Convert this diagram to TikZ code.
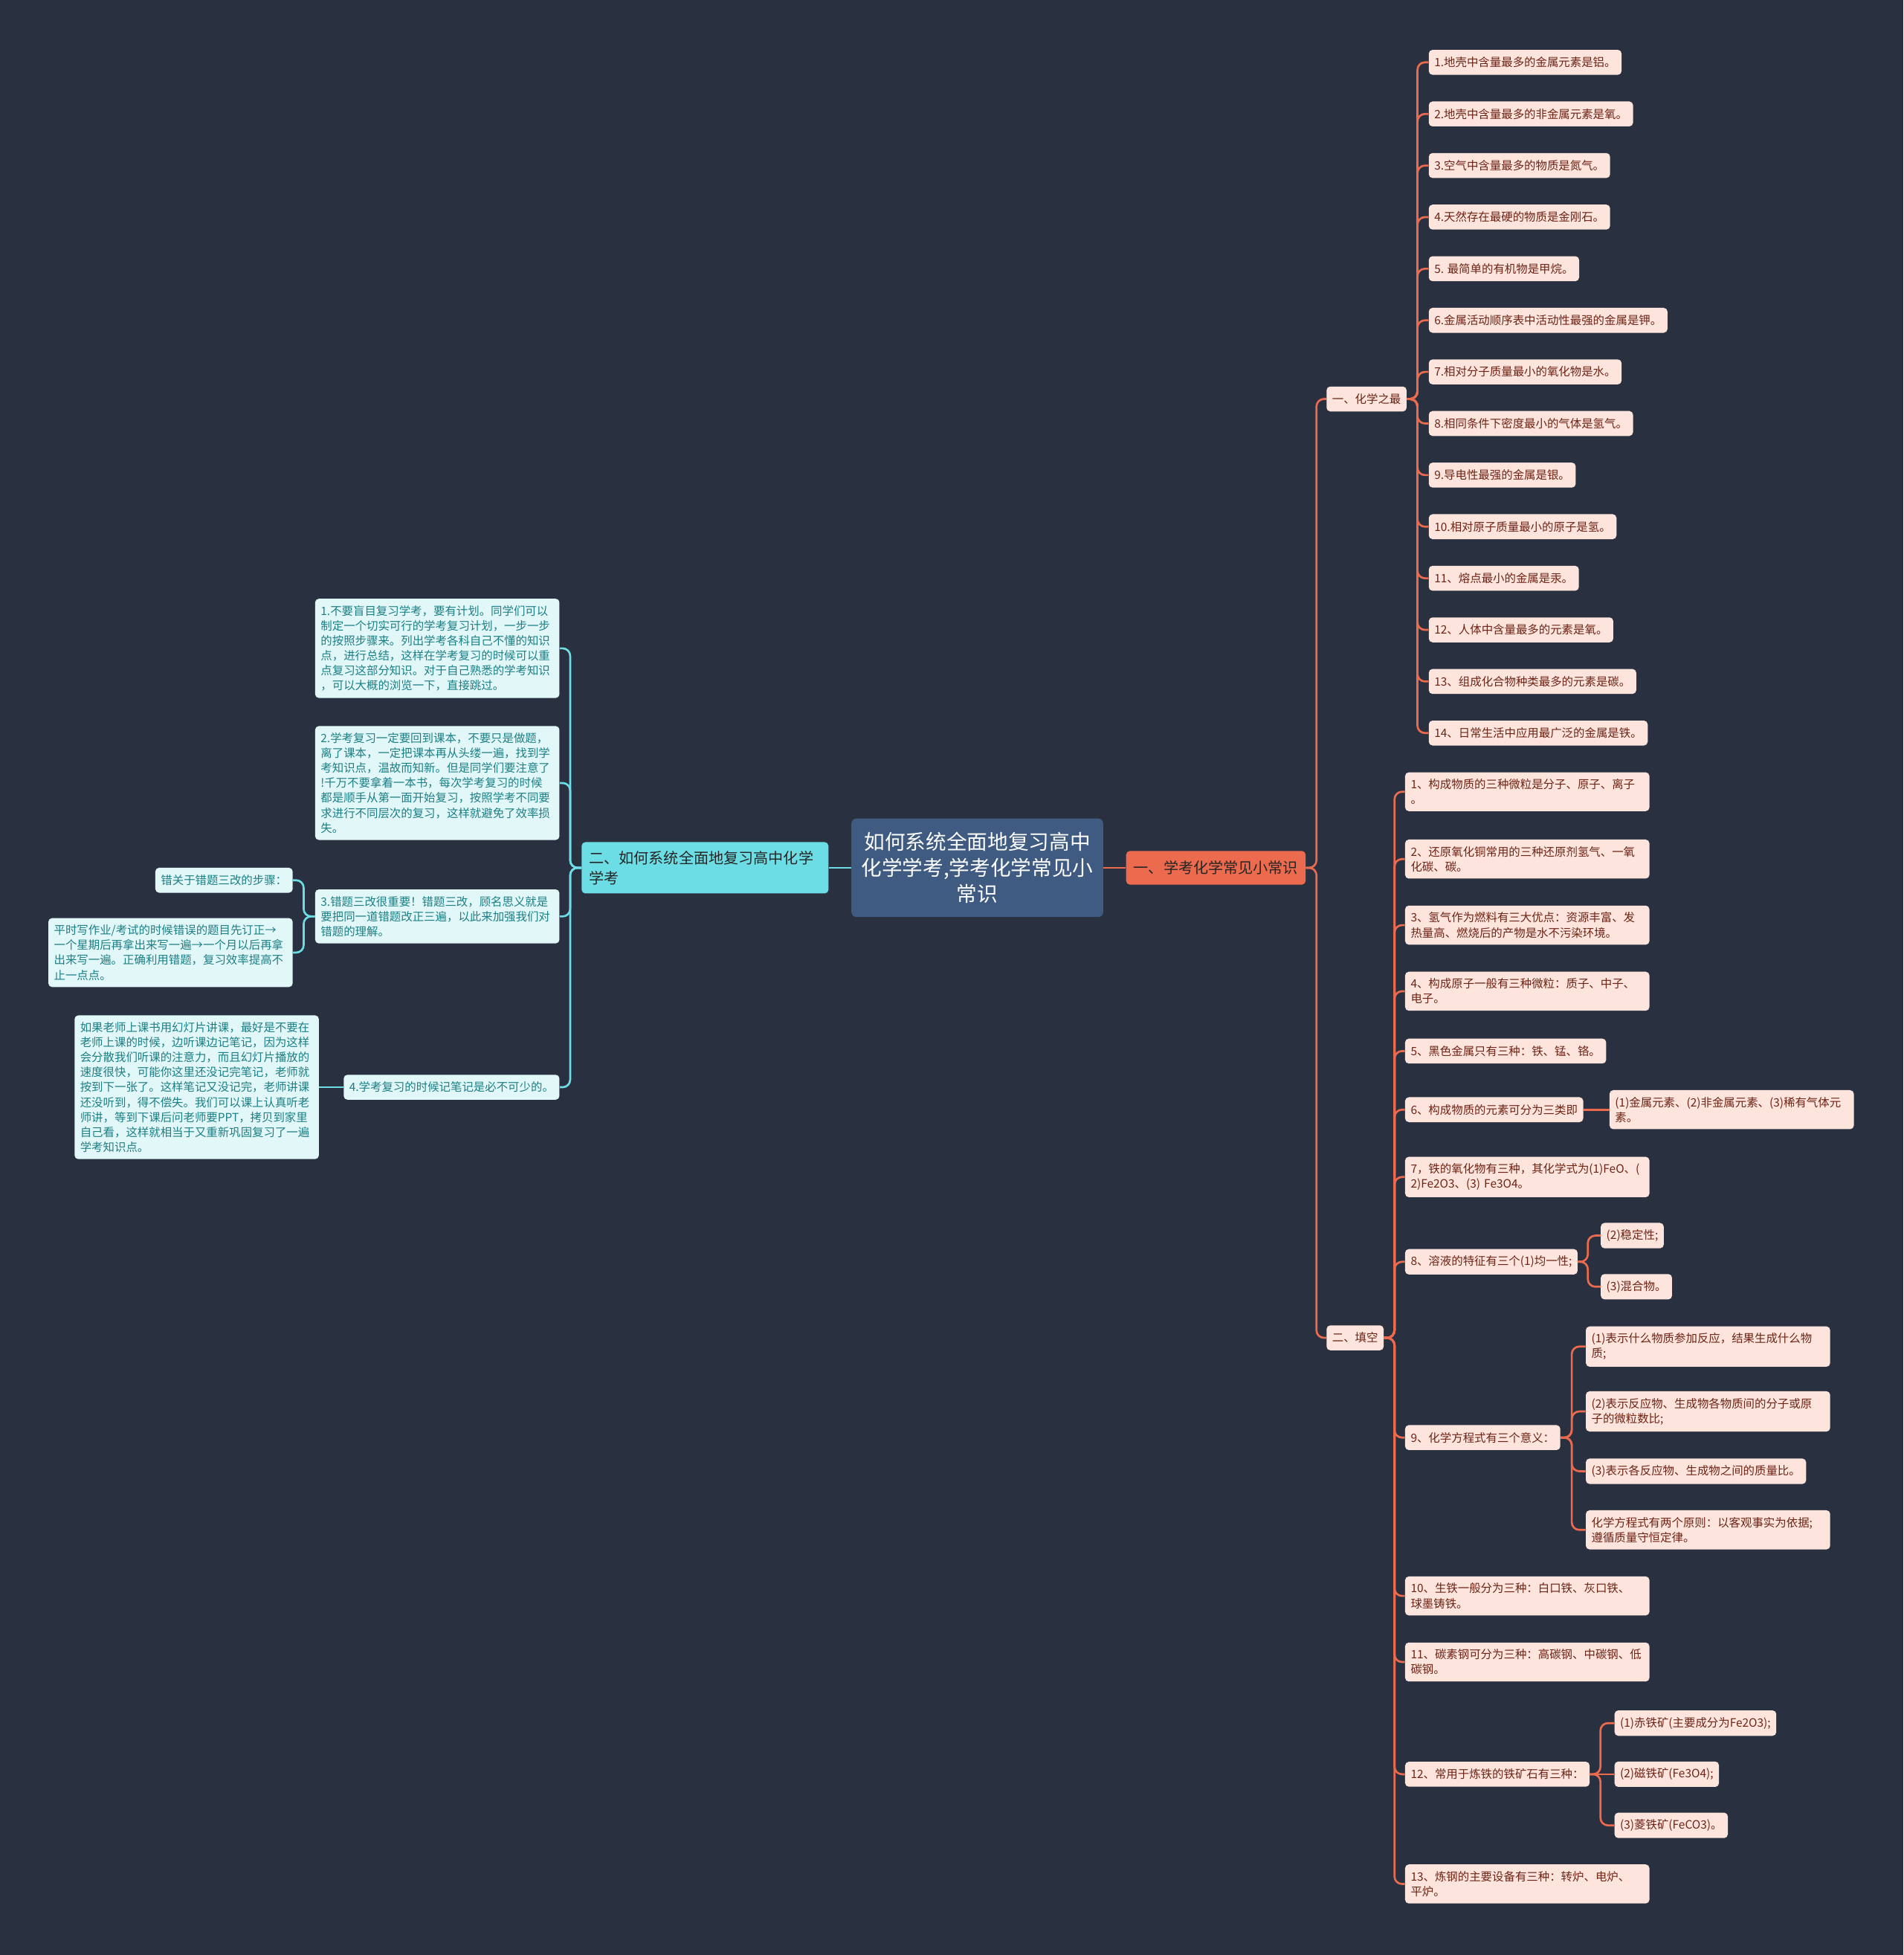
\documentclass[tikz,border=0pt]{standalone}
\usepackage{fontspec}
\setmainfont{Noto Sans CJK SC}
\usepackage{xcolor}
\usetikzlibrary{positioning}

\definecolor{bgnavy}{HTML}{293141}
\definecolor{rootblue}{HTML}{3F5B81}
\definecolor{sciorange}{HTML}{EC6A4D}
\definecolor{learncyan}{HTML}{6CDDE4}
\definecolor{pinkfill}{HTML}{FDE4DD}
\definecolor{pinktext}{HTML}{6E2415}
\definecolor{cyanfill}{HTML}{E2F7F8}
\definecolor{cyantext}{HTML}{1B7F86}

\begin{document}
\begin{tikzpicture}[x=1pt, y=-1pt,
  root/.style={fill=rootblue, text=white, rounded corners=4pt, align=center,
    minimum width=202pt, minimum height=79pt, font=\fontsize{16.5}{21}\selectfont},
  scimain/.style={fill=sciorange, text=black!85, rounded corners=3pt,
    minimum height=27pt, inner xsep=6pt, font=\fontsize{12}{16}\selectfont},
  learnmain/.style={fill=learncyan, text=black!85, rounded corners=3pt, align=left,
    text width=186pt, inner xsep=6pt, inner ysep=7pt, font=\fontsize{12}{16}\selectfont},
  pinkleaf/.style={fill=pinkfill, text=pinktext, rounded corners=3pt, align=left,
    minimum height=20pt, inner xsep=4.5pt, inner ysep=5.4pt, font=\fontsize{9.2}{12}\selectfont},
  pinkwide/.style={pinkleaf, text width=187pt},
  cyanleaf/.style={fill=cyanfill, text=cyantext, rounded corners=3pt, align=left,
    minimum height=20pt, inner xsep=4.5pt, inner ysep=5.4pt, font=\fontsize{9.2}{12}\selectfont},
  cyanwide/.style={cyanleaf, text width=187pt},
  redlink/.style={draw=sciorange, line width=1.6pt, rounded corners=6pt},
  cyanlink/.style={draw=learncyan, line width=1.6pt, rounded corners=6pt}
]
\fill[bgnavy] (0,0) rectangle (1527,1568);

% centre and the two main branches
\node[root] (root) at (784,696) {如何系统全面地复习高中\\化学学考,学考化学常见小\\常识};
\node[scimain, right=18pt of root] (sci) {一、学考化学常见小常识};
\node[learnmain, left=18pt of root] (learn) {二、如何系统全面地复习高中化学\\学考};
\draw[redlink] (root.east) -- (sci.west);
\draw[cyanlink] (root.west) -- (learn.east);

% right side
\node[pinkleaf, anchor=west] (zui) at (1064,320) {一、化学之最};
\node[pinkleaf, anchor=west] (tian) at (1064,1073) {二、填空};
\draw[redlink] (sci.east) -- ++(8.5,0) |- (zui.west);
\draw[redlink] (sci.east) -- ++(8.5,0) |- (tian.west);

\foreach \t [count=\k] in {1.地壳中含量最多的金属元素是铝。, 2.地壳中含量最多的非金属元素是氧。,
    3.空气中含量最多的物质是氮气。, 4.天然存在最硬的物质是金刚石。, 5. 最简单的有机物是甲烷。,
    6.金属活动顺序表中活动性最强的金属是钾。, 7.相对分子质量最小的氧化物是水。,
    8.相同条件下密度最小的气体是氢气。, 9.导电性最强的金属是银。, 10.相对原子质量最小的原子是氢。,
    11、熔点最小的金属是汞。, 12、人体中含量最多的元素是氧。, 13、组成化合物种类最多的元素是碳。,
    14、日常生活中应用最广泛的金属是铁。}{
  \node[pinkleaf, anchor=west] (zui\k) at (1146, {50+41.38*(\k-1)}) {\t};
  \draw[redlink] (zui.east) -- ++(8.5,0) |- (zui\k.west);
}

\node[pinkwide, anchor=west] (t1) at (1127,635) {1、构成物质的三种微粒是分子、原子、离子\\。};
\node[pinkwide, anchor=west] (t2) at (1127,689) {2、还原氧化铜常用的三种还原剂氢气、一氧\\化碳、碳。};
\node[pinkwide, anchor=west] (t3) at (1127,742) {3、氢气作为燃料有三大优点：资源丰富、发\\热量高、燃烧后的产物是水不污染环境。};
\node[pinkwide, anchor=west] (t4) at (1127,795) {4、构成原子一般有三种微粒：质子、中子、\\电子。};
\node[pinkleaf, anchor=west] (t5) at (1127,843) {5、黑色金属只有三种：铁、锰、铬。};
\node[pinkleaf, anchor=west] (t6) at (1127,890) {6、构成物质的元素可分为三类即};
\node[pinkwide, anchor=west] (t7) at (1127,944) {7，铁的氧化物有三种，其化学式为(1)FeO、(\\2)Fe2O3、(3) Fe3O4。};
\node[pinkleaf, anchor=west] (t8) at (1127,1012) {8、溶液的特征有三个(1)均一性;};
\node[pinkleaf, anchor=west] (t9) at (1127,1153) {9、化学方程式有三个意义：};
\node[pinkwide, anchor=west] (t10) at (1127,1280) {10、生铁一般分为三种：白口铁、灰口铁、\\球墨铸铁。};
\node[pinkwide, anchor=west] (t11) at (1127,1333) {11、碳素钢可分为三种：高碳钢、中碳钢、低\\碳钢。};
\node[pinkleaf, anchor=west] (t12) at (1127,1423) {12、常用于炼铁的铁矿石有三种：};
\node[pinkwide, anchor=west] (t13) at (1127,1511) {13、炼钢的主要设备有三种：转炉、电炉、\\平炉。};
\foreach \k in {1,...,13}
  \draw[redlink] (tian.east) -- ++(8.5,0) |- (t\k.west);

\node[pinkwide, anchor=west] (t6a) at (1291,890) {(1)金属元素、(2)非金属元素、(3)稀有气体元\\素。};
\draw[redlink] (t6.east) -- (t6a.west);

\node[pinkleaf, anchor=west] (t8a) at (1284,991) {(2)稳定性;};
\node[pinkleaf, anchor=west] (t8b) at (1284,1032) {(3)混合物。};
\foreach \s in {a,b}
  \draw[redlink] (t8.east) -- ++(8,0) |- (t8\s.west);

\node[pinkwide, anchor=west] (t9a) at (1272,1080) {(1)表示什么物质参加反应，结果生成什么物\\质;};
\node[pinkwide, anchor=west] (t9b) at (1272,1132) {(2)表示反应物、生成物各物质间的分子或原\\子的微粒数比;};
\node[pinkleaf, anchor=west] (t9c) at (1272,1180) {(3)表示各反应物、生成物之间的质量比。};
\node[pinkwide, anchor=west] (t9d) at (1272,1227) {化学方程式有两个原则：以客观事实为依据;\\遵循质量守恒定律。};
\foreach \s in {a,b,c,d}
  \draw[redlink] (t9.east) -- ++(9,0) |- (t9\s.west);

\node[pinkleaf, anchor=west] (t12a) at (1295,1382) {(1)赤铁矿(主要成分为Fe2O3);};
\node[pinkleaf, anchor=west] (t12b) at (1295,1423) {(2)磁铁矿(Fe3O4);};
\node[pinkleaf, anchor=west] (t12c) at (1295,1464) {(3)菱铁矿(FeCO3)。};
\draw[redlink] (t12.east) -- ++(8.5,0) |- (t12a.west);
\draw[redlink] (t12.east) -- (t12b.west);
\draw[redlink] (t12.east) -- ++(8.5,0) |- (t12c.west);

% left side
\node[cyanwide, anchor=east] (way1) at (449,520) {1.不要盲目复习学考，要有计划。同学们可以\\制定一个切实可行的学考复习计划，一步一步\\的按照步骤来。列出学考各科自己不懂的知识\\点，进行总结，这样在学考复习的时候可以重\\点复习这部分知识。对于自己熟悉的学考知识\\，可以大概的浏览一下，直接跳过。};
\node[cyanwide, anchor=east] (way2) at (449,628) {2.学考复习一定要回到课本，不要只是做题，\\离了课本，一定把课本再从头缕一遍，找到学\\考知识点，温故而知新。但是同学们要注意了\\!千万不要拿着一本书，每次学考复习的时候\\都是顺手从第一面开始复习，按照学考不同要\\求进行不同层次的复习，这样就避免了效率损\\失。};
\node[cyanwide, anchor=east] (way3) at (449,735) {3.错题三改很重要！错题三改，顾名思义就是\\要把同一道错题改正三遍，以此来加强我们对\\错题的理解。};
\node[cyanleaf, anchor=east] (way4) at (449,872) {4.学考复习的时候记笔记是必不可少的。};
\foreach \k in {1,...,4}
  \draw[cyanlink] (learn.west) -- ++(-9,0) |- (way\k.east);

\node[cyanleaf, anchor=east] (way3a) at (235,706) {错关于错题三改的步骤：};
\node[cyanwide, anchor=east] (way3b) at (235,764) {平时写作业/考试的时候错误的题目先订正→\\一个星期后再拿出来写一遍→一个月以后再拿\\出来写一遍。正确利用错题，复习效率提高不\\止一点点。};
\draw[cyanlink] (way3.west) -- ++(-9,0) |- (way3a.east);
\draw[cyanlink] (way3.west) -- ++(-9,0) |- (way3b.east);

\node[cyanwide, anchor=east] (way4a) at (256,872) {如果老师上课书用幻灯片讲课，最好是不要在\\老师上课的时候，边听课边记笔记，因为这样\\会分散我们听课的注意力，而且幻灯片播放的\\速度很快，可能你这里还没记完笔记，老师就\\按到下一张了。这样笔记又没记完，老师讲课\\还没听到，得不偿失。我们可以课上认真听老\\师讲，等到下课后问老师要PPT，拷贝到家里\\自己看，这样就相当于又重新巩固复习了一遍\\学考知识点。};
\draw[cyanlink] (way4.west) -- (way4a.east);
\end{tikzpicture}
\end{document}
